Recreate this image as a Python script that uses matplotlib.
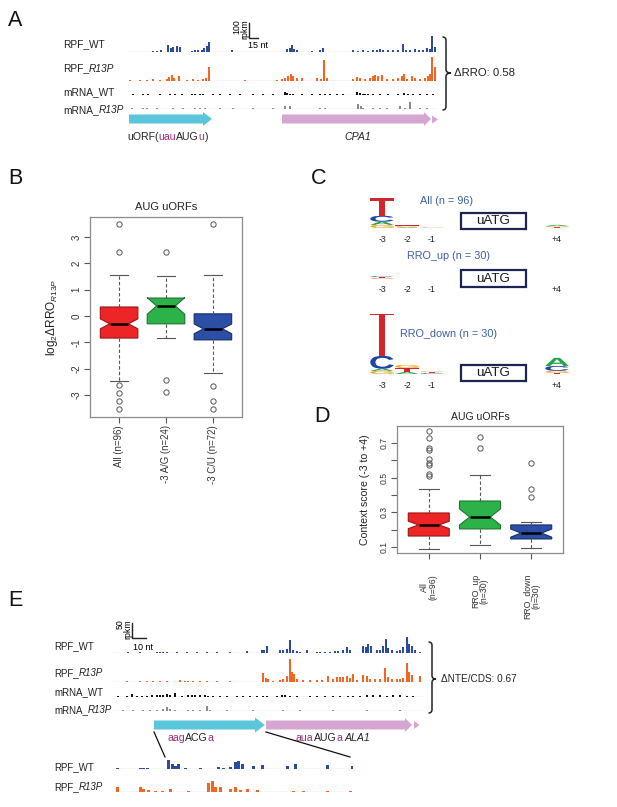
import matplotlib
matplotlib.use('Agg')
import matplotlib.pyplot as plt
import numpy as np
from matplotlib.path import Path
from matplotlib.patches import PathPatch, Polygon, Rectangle
from matplotlib.textpath import TextPath
from matplotlib.font_manager import FontProperties
import matplotlib.transforms as mtrans

plt.rcParams['font.family'] = ['Liberation Sans', 'DejaVu Sans']
plt.rcParams['mathtext.fontset'] = 'custom'
plt.rcParams['mathtext.rm'] = 'Liberation Sans'
plt.rcParams['mathtext.it'] = 'Liberation Sans:italic'
plt.rcParams['mathtext.bf'] = 'Liberation Sans:bold'

# ---------------- data ----------------
# Panel A coverage tracks: (position nt, rpkm)
A_RPF_WT = [(26,8),(30,8),(34,12),(41,51),(44,31),(46,36),(50,41),(53,36),(65,8),(68,10),(71,10),(75,15),(77,26),(80,46),(82,77),(105,13),(160,20),(163,31),(165,51),(167,20),(170,10),(185,8),(193,10),(196,31),(226,10),(231,8),(236,10),(241,8),(246,15),(250,13),(253,20),(256,10),(261,10),(266,13),(271,10),(276,56),(279,15),(283,13),(288,20),(292,15),(296,13),(300,26),(303,20),(305,118),(308,36)]
A_RPF_R13P = [(3,8),(13,5),(20,10),(26,13),(33,8),(40,15),(42,31),(45,46),(47,26),(52,41),(60,8),(66,13),(71,10),(76,15),(79,26),(82,108),(118,5),(150,8),(155,15),(158,20),(161,36),(164,56),(166,36),(170,20),(175,26),(190,20),(194,15),(197,164),(200,20),(226,15),(230,31),(233,26),(238,15),(243,20),(246,36),(248,46),(251,41),(255,46),(260,15),(266,15),(271,20),(275,41),(277,56),(280,15),(285,36),(288,20),(293,15),(298,20),(301,36),(303,51),(305,185),(308,108)]
A_MRNA_WT = [(6,5),(16,5),(21,5),(33,8),(43,5),(48,5),(55,5),(65,8),(68,5),(73,8),(76,5),(86,5),(93,5),(103,5),(113,5),(126,5),(136,5),(146,5),(158,26),(160,13),(163,8),(166,5),(175,8),(185,5),(193,8),(198,8),(203,5),(210,8),(216,5),(230,26),(233,15),(236,10),(238,8),(241,8),(246,8),(253,5),(261,5),(271,8),(277,15),(281,8),(286,8),(293,5),(300,5),(306,5)]
A_MRNA_R13P = [(5,5),(16,8),(20,8),(30,8),(46,5),(56,5),(68,5),(73,5),(78,5),(93,5),(106,5),(126,5),(146,5),(158,26),(163,26),(193,8),(198,5),(231,36),(234,20),(236,10),(246,8),(253,5),(260,8),(273,26),(278,8),(283,56),(293,5),(300,8)]

# Panel E coverage tracks
E_RPF_WT = [(15,2),(27,2),(44,5),(47,4),(50,5),(54,4),(64,4),(74,4),(84,5),(94,4),(104,4),(117,4),(134,6),(149,10),(151,12),(154,24),(167,12),(170,12),(174,14),(177,45),(180,12),(184,7),(187,5),(194,10),(204,5),(207,5),(212,5),(217,5),(222,7),(225,7),(230,10),(234,21),(237,12),(250,26),(253,21),(255,33),(258,24),(264,10),(267,12),(270,24),(273,50),(275,17),(279,10),(284,7),(287,10),(290,21),(294,57),(296,33),(299,24),(302,12),(307,5)]
E_RPF_R13P = [(14,2),(27,5),(34,4),(40,2),(47,4),(54,2),(67,6),(72,4),(75,4),(80,4),(87,2),(94,4),(104,2),(117,2),(150,33),(153,14),(155,10),(160,5),(167,7),(170,12),(174,21),(177,81),(179,36),(181,29),(184,12),(190,7),(197,6),(204,7),(209,7),(215,21),(220,12),(224,17),(227,19),(230,17),(234,21),(237,14),(240,29),(244,7),(250,24),(254,21),(257,12),(262,10),(267,12),(272,50),(275,17),(279,12),(284,10),(287,12),(290,14),(294,69),(296,36),(299,26),(307,21)]
E_MRNA_WT = [(5,4),(14,4),(19,10),(24,4),(29,5),(34,5),(39,6),(44,6),(47,8),(50,7),(54,12),(57,6),(62,14),(69,5),(75,7),(79,6),(82,6),(87,6),(92,7),(95,5),(100,5),(107,4),(114,5),(124,4),(130,5),(137,5),(144,5),(150,5),(154,5),(164,5),(169,6),(172,6),(177,5),(184,4),(197,5),(204,4),(212,5),(220,4),(227,4),(235,5),(240,5),(247,5),(254,6),(260,6),(267,6),(274,5),(280,6),(287,6),(294,5),(300,4)]
E_MRNA_R13P = [(10,2),(20,2),(30,4),(37,4),(44,4),(50,7),(54,14),(57,7),(62,5),(75,4),(80,4),(87,4),(94,17),(97,4),(114,2),(140,2),(170,5),(187,2),(220,4),(254,2),(287,2)]
ZOOM_RPF_WT = [(4,5),(27,4),(30,4),(34,4),(55,32),(59,17),(62,12),(65,17),(72,5),(87,5),(105,7),(110,5),(117,7),(122,24),(125,30),(129,17),(140,12),(149,14),(174,12),(182,17),(214,14),(239,12)]
ZOOM_RPF_R13P = [(4,17),(27,17),(30,12),(35,7),(42,5),(49,5),(57,12),(75,5),(95,33),(99,40),(102,19),(107,17),(117,12),(122,17),(127,7),(134,10),(144,7),(180,5),(190,5),(214,5),(237,5)]

# Panel B box stats
B_LABELS = ['All (n=96)', '-3 A/G (n=24)', '-3 C/U (n=72)']
B_N = [96, 24, 72]
B_MED = [-0.30, 0.38, -0.49]
B_Q1 = [-0.84, -0.30, -0.91]
B_Q3 = [0.34, 0.68, 0.08]
B_WLO = [-2.47, -0.84, -2.17]
B_WHI = [1.56, 1.52, 1.56]
B_FLIERS = [[3.49, 2.43, -2.62, -2.91, -3.22, -3.52], [2.43, -2.43, -2.89], [3.49, -2.66, -3.23, -3.54]]

# Panel D box stats
D_LABELS = ['All\n(n=96)', 'RRO_up\n(n=30)', 'RRO_down\n(n=30)']
D_N = [96, 30, 30]
D_MED = [0.227, 0.273, 0.180]
D_Q1 = [0.163, 0.204, 0.146]
D_Q3 = [0.296, 0.365, 0.227]
D_WLO = [0.088, 0.112, 0.094]
D_WHI = [0.434, 0.515, 0.244]
D_FLIERS = [[0.77, 0.73, 0.67, 0.66, 0.61, 0.585, 0.575, 0.52, 0.51], [0.734, 0.67], [0.584, 0.434, 0.39]]

# Panel C sequence logos: stacks (bottom -> top) of (base, bits) per site
LOGO_SITES = ['-3', '-2', '-1', '+4']
LOGO_ALL = [[('G',0.12),('A',0.12),('C',0.23),('T',0.69)],
            [('A',0.03),('G',0.04),('T',0.03)],
            [('G',0.02),('T',0.02)],
            [('T',0.03),('G',0.04),('A',0.05)]]
LOGO_UP = [[('G',0.04),('T',0.04),('C',0.03)], [], [], []]
LOGO_DOWN = [[('G',0.12),('A',0.08),('C',0.50),('T',1.88)],
             [('A',0.08),('T',0.15),('G',0.12)],
             [('C',0.03),('T',0.04),('G',0.03)],
             [('T',0.04),('G',0.08),('C',0.19),('A',0.31)]]

# ---------------- figure ----------------
W, H = 617, 807
fig = plt.figure(figsize=(W / 100, H / 100), dpi=100)


def px_axes(left, top, width, height):
    return fig.add_axes([left / W, 1 - (top + height) / H, width / W, height / H])


ov = px_axes(0, 0, W, H)
ov.set_xlim(0, W)
ov.set_ylim(H, 0)
ov.axis('off')

PURPLE = '#9e2a7b'
CYAN = '#5bc5db'
PINK = '#d6a6d2'
BLUE_T = '#2b4ba0'
ORANGE_T = '#f26522'


def ink_w(s, size, style):
    t = ov.text(0, 0, s, fontsize=size, style=style)
    w = t.get_window_extent().width
    t.remove()
    return w


def rich(x, y, parts, size):
    for s, c, st in parts:
        ov.text(x, y, s, color=c, fontsize=size, style=st, ha='left', va='baseline')
        x += ink_w(s + 'l', size, st) - ink_w('l', size, st)


def label(x, y, parts, size):
    rich(x, y, [(s, '#222222', st) for s, st in parts], size)


def track(left, baseline, width, height, xmax, ymax, data, color, bw):
    ax = px_axes(left, baseline - height, width, height)
    ax.set_xlim(0, xmax)
    ax.set_ylim(0, ymax)
    ax.axis('off')
    ax.axhline(0, color='#c4c4c4', lw=0.9, zorder=1)
    pos = [p for p, v in data]
    val = [v for p, v in data]
    ax.bar(pos, val, width=bw, color=color, lw=0, zorder=2)
    return ax


def arrow(x0, x1, yc, body_h, head_len, head_h, color):
    pts = [(x0, yc - body_h / 2), (x1 - head_len, yc - body_h / 2), (x1 - head_len, yc - head_h / 2),
           (x1, yc), (x1 - head_len, yc + head_h / 2), (x1 - head_len, yc + body_h / 2), (x0, yc + body_h / 2)]
    ov.add_patch(Polygon(pts, closed=True, fc=color, ec='none'))


def tri(x0, x1, yc, h, color):
    ov.add_patch(Polygon([(x0, yc - h / 2), (x1, yc), (x0, yc + h / 2)], closed=True, fc=color, ec='none'))


def brace(x, ytop, ybot, tipx, ymid):
    r = 3.5
    verts = [(x - r, ytop), (x, ytop), (x, ytop + r),
             (x, ymid - r), (x, ymid), (tipx, ymid),
             (x, ymid), (x, ymid + r),
             (x, ybot - r), (x, ybot), (x - r, ybot)]
    codes = [Path.MOVETO, Path.CURVE3, Path.CURVE3, Path.LINETO, Path.CURVE3, Path.CURVE3,
             Path.CURVE3, Path.CURVE3, Path.LINETO, Path.CURVE3, Path.CURVE3]
    ov.add_patch(PathPatch(Path(verts, codes), fill=False, lw=1.1, ec='#222222'))


# panel letters
for s, x, y in [('A', 8, 21), ('B', 8, 179), ('C', 311, 178), ('D', 314, 416), ('E', 8, 601)]:
    ov.text(x, y, s, fontsize=15.5, ha='left', va='center', color='#111111')

# ---------------- Panel A ----------------
LS = 7.3
label(63, 47, [('RPF_WT', 'normal')], LS)
label(63, 71.5, [('RPF_', 'normal'), ('R13P', 'italic')], LS)
label(63, 95, [('mRNA_WT', 'normal')], LS)
label(63, 113, [('mRNA_', 'normal'), ('R13P', 'italic')], LS)

sA = 100 / 13.0  # rpkm per pixel
track(127, 51.7, 310, 18, 310, 18 * sA, A_RPF_WT, BLUE_T, 1.4)
track(127, 81, 310, 27, 310, 27 * sA, A_RPF_R13P, ORANGE_T, 1.4)
track(127, 95, 310, 10, 310, 10 * sA, A_MRNA_WT, '#111111', 1.2)
track(127, 109, 310, 10, 310, 10 * sA, A_MRNA_R13P, '#8a8a8a', 1.2)

# scale bar A
ov.plot([249, 249, 258], [23, 38, 38], color='#222222', lw=1.0)
ov.text(241, 29, '100\nrpkm', rotation=90, fontsize=6.3, ha='center', va='center', multialignment='right', linespacing=0.95)
ov.text(248, 46, '15 nt', fontsize=6.5, ha='left', va='center')

arrow(129, 212, 119, 9, 9, 14, CYAN)
arrow(282, 431, 119, 9, 7, 14, PINK)
tri(432, 438, 119.5, 8, PINK)

rich(127, 140.5, [('uORF(', '#222222', 'normal'), ('uau', PURPLE, 'normal'), ('AUG', '#222222', 'normal'),
                  ('u', PURPLE, 'normal'), (')', '#222222', 'normal')], 7.6)
ov.text(344, 140.5, 'CPA1', fontsize=7.6, style='italic', ha='left', va='baseline', color='#222222')

brace(446, 37, 110, 451, 73)
ov.text(454, 73, 'ΔRRO: 0.58', fontsize=8.2, ha='left', va='center', color='#222222')

# ---------------- boxplots ----------------
BOX_FILL = ['#ee2526', '#2db24a', '#2b4ea6']
BOX_EDGE = ['#9c1416', '#1d7432', '#1b2f68']


def box_panel(left, top, width, height, labels, ns, meds, q1s, q3s, wlos, whis, fliers):
    ax = px_axes(left, top, width, height)
    stats = []
    for lab, n, m, a, b, lo, hi, fl in zip(labels, ns, meds, q1s, q3s, wlos, whis, fliers):
        half = 1.58 * (b - a) / np.sqrt(n)
        stats.append(dict(label=lab, med=m, q1=a, q3=b, whislo=lo, whishi=hi,
                          fliers=np.array(fl), cilo=m - half, cihi=m + half))
    bp = ax.bxp(stats, positions=[1, 2, 3], widths=0.8, shownotches=True, patch_artist=True,
                boxprops=dict(linewidth=0.8),
                whiskerprops=dict(linestyle=(0, (3, 2)), color='#555555', lw=0.8),
                capprops=dict(color='#555555', lw=0.8),
                medianprops=dict(color='black', lw=1.8),
                flierprops=dict(marker='o', markerfacecolor='none', markeredgecolor='#555555',
                                markersize=3.8, markeredgewidth=0.7),
                manage_ticks=False)
    for patch, fc, ec in zip(bp['boxes'], BOX_FILL, BOX_EDGE):
        patch.set_facecolor(fc)
        patch.set_edgecolor(ec)
    for sp in ax.spines.values():
        sp.set_color('#8a8a8a')
        sp.set_linewidth(0.9)
    ax.tick_params(colors='#555555', labelcolor='#333333', length=4, width=0.8)
    ax.set_xlim(0.38, 3.62)
    return ax


axB = box_panel(90, 217, 152, 200, B_LABELS, B_N, B_MED, B_Q1, B_Q3, B_WLO, B_WHI, B_FLIERS)
axB.set_ylim(-3.84, 3.76)
axB.set_yticks([-3, -2, -1, 0, 1, 2, 3])
axB.set_yticklabels(['-3', '-2', '-1', '0', '1', '2', '3'], rotation=90, va='center', fontsize=7)
axB.set_xticks([1, 2, 3])
axB.set_xticklabels(B_LABELS, rotation=90, fontsize=6.9)
axB.tick_params(axis='x', pad=2)
axB.tick_params(axis='y', pad=2)
axB.set_title('AUG uORFs', fontsize=8, pad=5, color='#222222')
axB.set_ylabel(r'$\mathrm{log}_{2}\mathrm{ΔRRO}_{\mathit{R13P}}$', fontsize=8.5, color='#222222')
axB.yaxis.set_label_coords(-0.2, 0.5)

axD = box_panel(397, 426, 166, 127, D_LABELS, D_N, D_MED, D_Q1, D_Q3, D_WLO, D_WHI, D_FLIERS)
axD.set_ylim(0.065, 0.798)
axD.set_yticks([0.1, 0.2, 0.3, 0.4, 0.5, 0.6, 0.7])
axD.set_yticklabels(['0.1', '', '0.3', '', '0.5', '', '0.7'], rotation=90, va='center', fontsize=6.2)
axD.set_xticks([1, 2, 3])
axD.set_xticklabels(D_LABELS, rotation=90, fontsize=6.3, multialignment='center', linespacing=1.0)
axD.tick_params(axis='x', pad=11)
axD.tick_params(axis='y', pad=2)
axD.set_title('AUG uORFs', fontsize=7.6, pad=4, color='#222222')
axD.set_ylabel('Context score (-3 to +4)', fontsize=7.6, color='#222222')
axD.yaxis.set_label_coords(-0.165, 0.5)

# ---------------- Panel C logos ----------------
LOGO_COLORS = {'A': '#22a34a', 'C': '#2043a4', 'G': '#f5a623', 'T': '#d1262b'}
SITE_X = {'-3': 0, '-2': 1, '-1': 2, '+4': 7}
FP = FontProperties(family='Liberation Sans', weight='bold')


def draw_letter(ax, ch, x, y, w, h, color):
    tp = TextPath((0, 0), ch, size=10, prop=FP)
    bb = tp.get_extents()
    t = mtrans.Affine2D().translate(-bb.x0, -bb.y0).scale(w / bb.width, h / bb.height).translate(x - w / 2, y)
    ax.add_patch(PathPatch(t.transform_path(tp), fc=color, ec='none', lw=0))


def logo(baseline, stacks):
    ax = px_axes(369.5, baseline - 60, 200, 60)
    ax.set_xlim(-0.5, 7.5)
    ax.set_ylim(0, 60 / 26.0)
    ax.axis('off')
    for site, stack in zip(LOGO_SITES, stacks):
        y = 0
        for base, bits in stack:
            draw_letter(ax, base, SITE_X[site], y, 0.94, bits, LOGO_COLORS[base])
            y += bits


rows = [(228, 239, 201, 420, 'All (n = 96)', (213, 229), LOGO_ALL),
        (279, 289, 256, 407, 'RRO_up (n = 30)', (270, 287), LOGO_UP),
        (374, 385, 334, 400, 'RRO_down (n = 30)', (365, 381), LOGO_DOWN)]
SITE_PX = {'-3': 382, '-2': 407, '-1': 432, '+4': 557}
for base_y, num_y, lab_y, lab_x, lab, (bt, bb), stacks in rows:
    logo(base_y, stacks)
    for s in LOGO_SITES:
        ov.text(SITE_PX[s], num_y, s, fontsize=6.3, ha='center', va='center', color='#222222')
    ov.text(lab_x, lab_y, lab, fontsize=7.8, ha='left', va='center', color='#3f5fa8')
    ov.add_patch(Rectangle((461, bt), 65, bb - bt, fill=False, ec='#1c2452', lw=1.6))
    ov.text(493.5, (bt + bb) / 2 + 0.5, 'uATG', fontsize=9.6, ha='center', va='center', color='#1a1a1a')

# ---------------- Panel E ----------------
LE = 7.0
label(54, 649, [('RPF_WT', 'normal')], LE)
label(54, 676, [('RPF_', 'normal'), ('R13P', 'italic')], LE)
label(54, 695.5, [('mRNA_WT', 'normal')], LE)
label(54, 713, [('mRNA_', 'normal'), ('R13P', 'italic')], LE)
label(54, 770, [('RPF_WT', 'normal')], LE)
label(54, 790, [('RPF_', 'normal'), ('R13P', 'italic')], LE)

sE = 50 / 14.0
track(113, 653, 310, 20, 310, 20 * sE, E_RPF_WT, BLUE_T, 1.4)
track(113, 682, 310, 27, 310, 27 * sE, E_RPF_R13P, ORANGE_T, 1.4)
track(113, 697, 310, 9, 310, 9 * sE, E_MRNA_WT, '#111111', 1.2)
track(113, 711, 310, 9, 310, 9 * sE, E_MRNA_R13P, '#8a8a8a', 1.2)
track(113, 769, 240, 13, 240, 13 * sE, ZOOM_RPF_WT, BLUE_T, 3.0)
track(113, 792, 240, 14, 240, 14 * sE, ZOOM_RPF_R13P, ORANGE_T, 3.0)

ov.plot([132, 132, 146], [623, 638, 638], color='#222222', lw=1.0)
ov.text(124, 629, '50\nrpkm', rotation=90, fontsize=6.3, ha='center', va='center', multialignment='right', linespacing=0.95)
ov.text(133, 647, '10 nt', fontsize=6.5, ha='left', va='center')

arrow(154, 265, 725, 9, 10, 15, CYAN)
arrow(266, 412, 725, 9, 7, 14, PINK)
tri(414, 419.5, 725, 8, PINK)

rich(167, 741, [('aag', PURPLE, 'normal'), ('ACG', '#222222', 'normal'), ('a', PURPLE, 'normal')], 7.6)
rich(296, 741, [('aua', PURPLE, 'normal'), ('AUG', '#222222', 'normal'), ('a', PURPLE, 'normal')], 7.6)
ov.text(345, 741, 'ALA1', fontsize=7.6, style='italic', ha='left', va='baseline', color='#222222')

ov.plot([154, 165], [732, 757], color='#111111', lw=0.9)
ov.plot([266, 350], [732, 757], color='#111111', lw=0.9)

brace(432, 642, 713, 436, 679)
ov.text(441, 679, 'ΔNTE/CDS: 0.67', fontsize=7.2, ha='left', va='center', color='#222222')

fig.savefig('out.png', dpi=100)
